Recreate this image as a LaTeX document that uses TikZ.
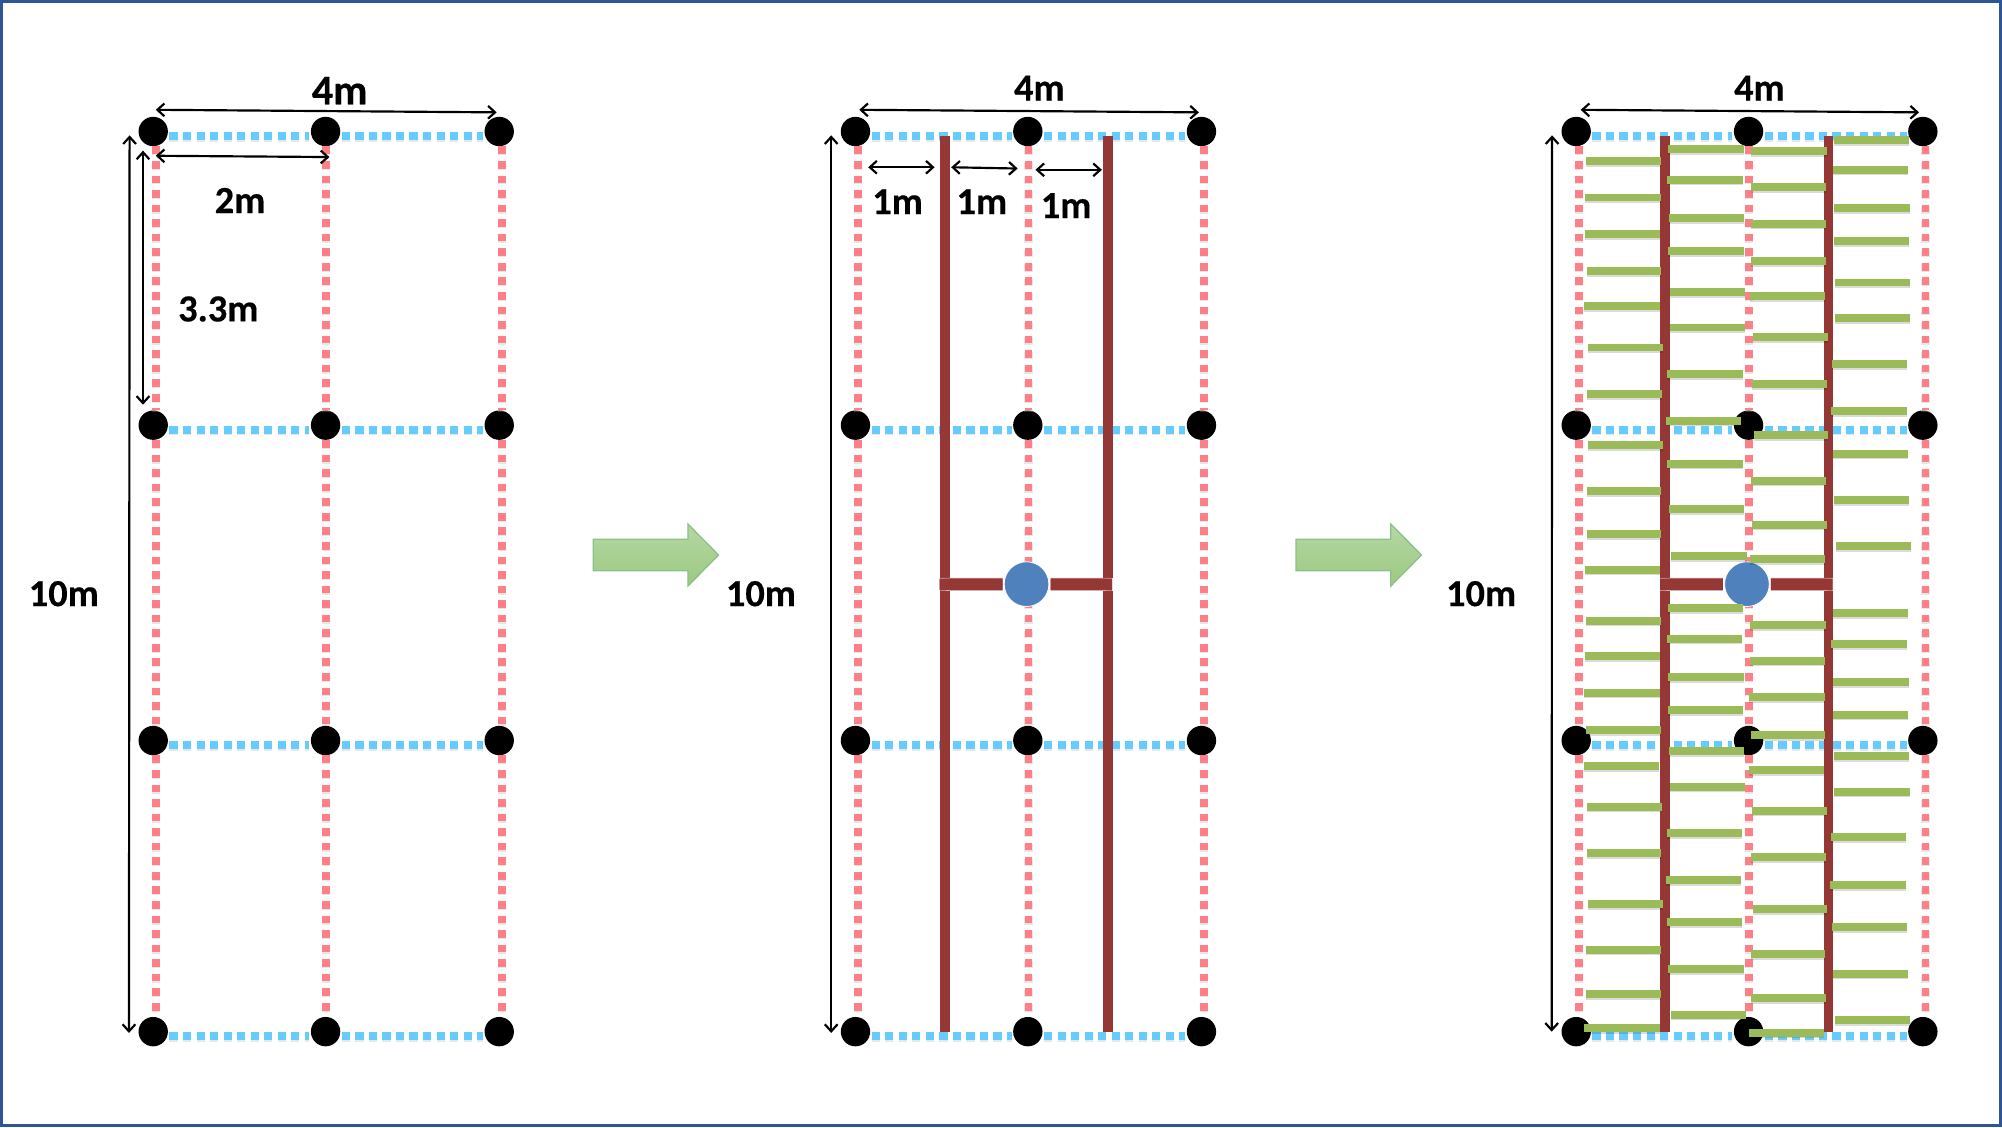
\documentclass[tikz,border=0pt]{standalone}
\usepackage{fontspec}
\setmainfont[BoldFeatures={FakeBold=0.4}]{Carlito}
\usetikzlibrary{arrows.meta,shapes.geometric}
\definecolor{framec}{HTML}{2F5597}
\definecolor{redd}{HTML}{FF7F88}
\definecolor{blued}{HTML}{66CCFF}
\definecolor{brownc}{HTML}{953735}
\definecolor{greenc}{HTML}{9BBB59}
\definecolor{circc}{HTML}{4F81BD}
\definecolor{B5D7A5}{HTML}{B5D7A5}
\definecolor{9CC97F}{HTML}{9CC97F}
\tikzset{
  dot/.style={circle,fill=black,draw=none,minimum size=23pt,inner sep=0pt},
  reddash/.style={draw=redd,line width=6pt,dash pattern=on 6pt off 5.4pt},
  bluedash/.style={draw=blued,line width=6.4pt,dash pattern=on 6.4pt off 4.2pt},
  redsh/.style={draw=black!30,opacity=.3,line width=6.4pt,dash pattern=on 6pt off 5.4pt},
  bluesh/.style={draw=black!30,opacity=.3,line width=6.4pt,dash pattern=on 6.4pt off 4.2pt},
  brownl/.style={draw=brownc,line width=7.6pt},
  brownh/.style={draw=brownc!60!white,line width=10pt},
  browncore/.style={draw=brownc,line width=8.8pt},
  bar/.style={draw=greenc,line width=6.2pt},
  barsh/.style={draw=black,opacity=.14,line width=6.2pt},
  dim/.style={draw=black,line width=1.7pt,{Straight Barb[length=5.5pt,width=10pt]}-{Straight Barb[length=5.5pt,width=10pt]}},
  lab/.style={font=\fontsize{30}{32}\bfseries\selectfont,inner sep=0pt,text=black},
  labbig/.style={font=\fontsize{33}{35}\bfseries\selectfont,inner sep=0pt,text=black},
  hub/.style={circle,fill=circc,draw=white,line width=.6pt,minimum size=35pt,inner sep=0pt},
  blockarrow/.style={draw=green!45!black!45!white,line width=1pt,top color=B5D7A5,bottom color=9CC97F},
}
\begin{document}
\begin{tikzpicture}[x=1pt,y=-1pt]
\useasboundingbox (0,0) rectangle (1568,882.7);
\fill[white] (0,0) rectangle (1568,882.7);
\draw[framec,line width=2pt] (1,1) rectangle (1567,881.7);

% grid dots
\foreach \p/\xa/\xb/\xc in {a/120/255/391,b/670/805/941,c/1234.5/1369.5/1506}{
  \foreach \r/\yy in {1/103,2/333,3/580,4/808}{
    \node[dot] (\p\r1) at (\xa,\yy) {};
    \node[dot] (\p\r2) at (\xb,\yy) {};
    \node[dot] (\p\r3) at (\xc,\yy) {};
  }
}
% dotted grid connectors
\foreach \p in {a,b,c}{
  \foreach \c in {1,2,3}{
    \foreach \ra/\rb in {1/2,2/3,3/4}{
      \ifnum\c=2\def\sx{0.5pt}\else\def\sx{2pt}\fi
      \draw[redsh] ([xshift=\sx,yshift=-1pt]\p\ra\c.south) -- ([xshift=\sx,yshift=-1pt]\p\rb\c.north);
      \draw[reddash] ([xshift=\sx]\p\ra\c.south) -- ([xshift=\sx]\p\rb\c.north);
    }
  }
  \foreach \r in {1,2,3,4}{
    \foreach \ca/\cb in {1/2,2/3}{
      \draw[bluesh] ([xshift=1pt,yshift=-4.7pt]\p\r\ca.east) -- ([xshift=-1pt,yshift=-4.7pt]\p\r\cb.west);
      \draw[bluedash] ([xshift=1pt,yshift=-3.7pt]\p\r\ca.east) -- ([xshift=-1pt,yshift=-3.7pt]\p\r\cb.west);
    }
  }
}

% panel 2 and 3 brown lines with hub
\foreach \p/\xl/\xr/\xh/\hl/\hr in {b/740/868/804/736/871,c/1304/1432/1368.2/1300.3/1435.3}{
  \node[hub] (hub\p) at (\xh,457.5) {};
  \coordinate (tl\p) at (\xl,106.5);
  \coordinate (tr\p) at (\xr,106.5);
  \coordinate (ul\p) at (\xl,452.5);
  \coordinate (ur\p) at (\xr,452.5);
  \coordinate (ll\p) at (\xl,462.5);
  \coordinate (lr\p) at (\xr,462.5);
  \coordinate (bl\p) at (\xl,808.5);
  \coordinate (br\p) at (\xr,808.5);
  \coordinate (hl\p) at (\hl,457.7);
  \coordinate (hr\p) at (\hr,457.7);
  \draw[brownl] (tl\p) -- (ul\p);
  \draw[brownl] (ll\p) -- (bl\p);
  \draw[brownl] (tr\p) -- (ur\p);
  \draw[brownl] (lr\p) -- (br\p);
  \draw[brownh] (hl\p) -- ([xshift=-1pt]hub\p.west);
  \draw[brownh] ([xshift=1pt]hub\p.east) -- (hr\p);
  \draw[browncore] (hl\p) -- ([xshift=-1pt]hub\p.west);
  \draw[browncore] ([xshift=1pt]hub\p.east) -- (hr\p);
}

% green bars, upper part
\begin{scope}[shift={(1206.1,47)},x=0.26107pt,y=-0.27972pt]
\foreach \xa/\xb/\yy in {
 138/364/283,136/362/385,135/361/487,140/364/591,133/359/689,143/368/805,141/365/935,145/369/1079,140/364/1207,140/364/1328,135/361/1427,
 385/611/250,382/608/335,387/613/443,385/611/535,389/615/650,390/616/749,382/608/879,378/604/1010,382/608/1130,387/613/1258,393/621/1389,
 634/860/256,633/859/356,632/858/458,633/858/563,630/856/661,639/863/776,636/860/907,641/865/1050,633/858/1178,636/860/1301,630/856/1398,
 882/1108/224,878/1104/307,883/1109/415,881/1107/507,884/1110/623,884/1110/723,876/1102/851,874/1100/984,878/1104/1102,881/1107/1232,888/1114/1362}{
  \draw[barsh,yshift=-1.3pt] (\xa,\yy) -- (\xb,\yy);
  \draw[bar] (\xa,\yy) -- (\xb,\yy);
}
\end{scope}
% green bars, lower part
\begin{scope}[shift={(1206.1,454.3)},x=0.26107pt,y=-0.26107pt]
\foreach \xa/\xb/\yy in {
 137/363/122,135/361/229,133/359/338,139/363/450,132/358/558,142/365/680,140/364/819,144/368/973,138/362/1109,138/362/1242,133/359/1345,
 384/610/85,380/606/176,385/611/292,384/610/390,387/612/513,389/615/620,380/606/759,377/603/901,380/606/1027,385/611/1167,393/618/1304,
 631/857/135,630/856/242,628/854/351,632/855/465,626/852/570,636/860/692,634/858/831,638/861/987,632/855/1122,633/857/1255,626/852/1358,
 878/1104/100,874/1100/192,880/1106/306,878/1104/404,882/1108/529,883/1109/635,873/1099/772,871/1097/915,875/1101/1042,878/1104/1181,885/1111/1320}{
  \draw[barsh,yshift=-1.3pt] (\xa,\yy) -- (\xb,\yy);
  \draw[bar] (\xa,\yy) -- (\xb,\yy);
}
\end{scope}

% block arrows
\foreach \dx in {0,550.5}{
  \path[blockarrow,shift={(\dx,0)}] (464.6,422.4) -- (538.8,422.4) -- (538.8,410.4) -- (562.8,434.7) -- (538.8,459) -- (538.8,447) -- (464.6,447) -- cycle;
}

% dimension arrows
\coordinate (w1s) at (122,86);   \coordinate (w1e) at (389,88);
\coordinate (w2s) at (673,86);   \coordinate (w2e) at (939,88);
\coordinate (w3s) at (1238,86);  \coordinate (w3e) at (1503,88);
\coordinate (h1s) at (101.5,106);\coordinate (h1e) at (101,809);
\coordinate (h2s) at (651,106);  \coordinate (h2e) at (651,809);
\coordinate (h3s) at (1215.6,106);\coordinate (h3e) at (1215.3,808);
\coordinate (s1s) at (122,122);  \coordinate (s1e) at (258,123);
\coordinate (v1s) at (112,118);  \coordinate (v1e) at (112,317);
\coordinate (m1s) at (680,131);  \coordinate (m1e) at (732,131);
\coordinate (m2s) at (745,131);  \coordinate (m2e) at (797,132);
\coordinate (m3s) at (811,133);  \coordinate (m3e) at (863,133);
\foreach \n in {w1,w2,w3,h1,h2,h3,s1,v1,m1,m2,m3}{
  \draw[dim] (\n s) -- (\n e);
}

% labels
\node[labbig] (l4a) at (266,71) {4m};
\node[lab] (l2a) at (188,157) {2m};
\node[lab] (l33) at (171,242) {3.3m};
\node[lab] (l10a) at (50,465) {10m};
\node[lab] (l4b) at (814,69) {4m};
\node[lab] (l1a) at (703,158) {1m};
\node[lab] (l1b) at (769,158) {1m};
\node[lab] (l1c) at (835,161) {1m};
\node[lab] (l10b) at (596,465) {10m};
\node[lab] (l4c) at (1378,69) {4m};
\node[lab] (l10c) at (1160,465) {10m};
\end{tikzpicture}
\end{document}
